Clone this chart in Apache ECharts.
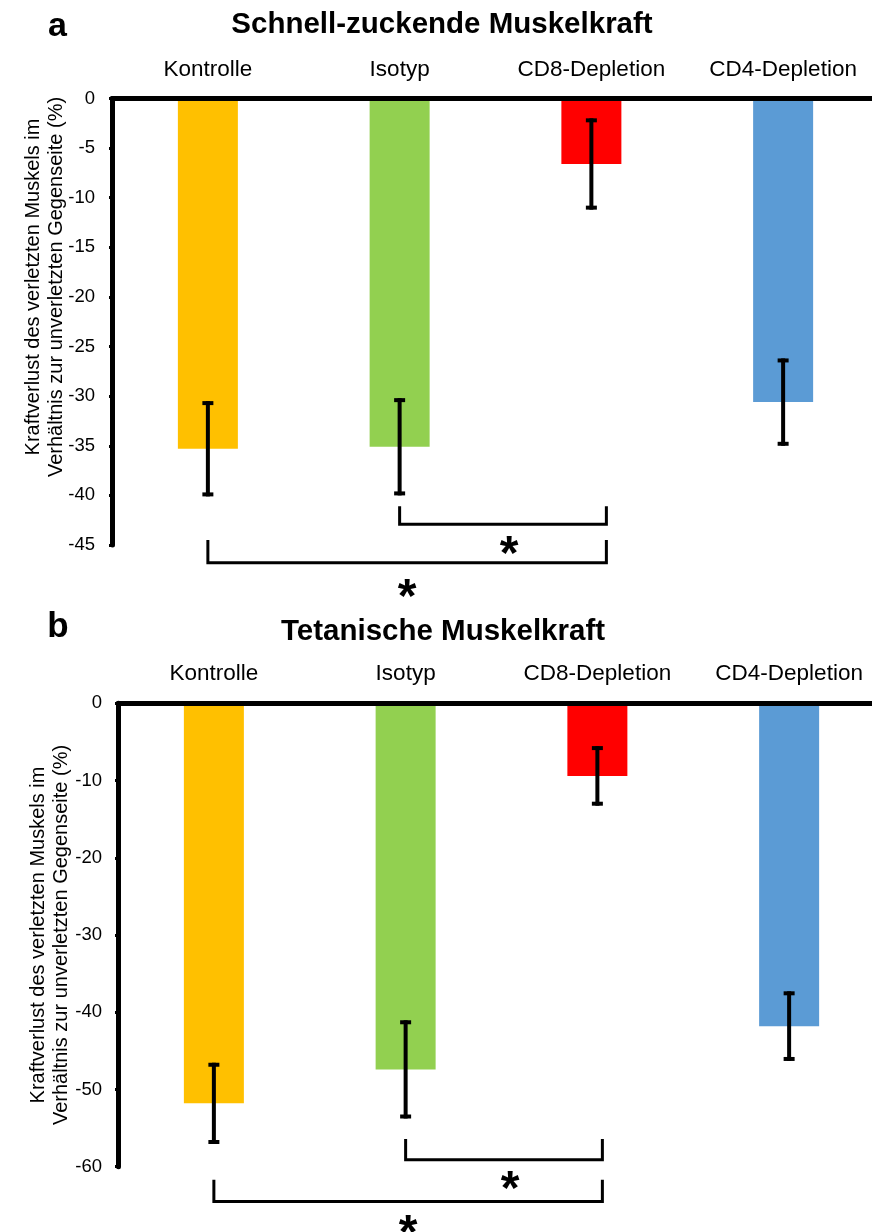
<!DOCTYPE html>
<html><head><meta charset="utf-8">
<script src="https://cdn.jsdelivr.net/npm/echarts@6/dist/echarts.min.js"></script>
<style>html,body{margin:0;padding:0;background:#fff}#c{width:872px;height:1232px}</style>
</head><body><div id="c"></div>
<script>
// ---- data ----
const categories = ['Kontrolle', 'Isotyp', 'CD8-Depletion', 'CD4-Depletion'];
const barColors = ['#FFC000', '#92D050', '#FF0000', '#5B9BD5'];
const panelLetters = ['a', 'b'];
const titleA = 'Schnell-zuckende Muskelkraft';
const titleB = 'Tetanische Muskelkraft';
const yNameLines = ['Kraftverlust des verletzten Muskels im', 'Verhältnis zur unverletzten Gegenseite (%)'];
const meanA = [-35.3, -35.1, -6.6, -30.6];
const errA = [4.6, 4.7, 4.4, 4.2];
const meanB = [-51.8, -47.4, -9.4, -41.8];
const errB = [5.0, 6.1, 3.6, 4.25];
const yAxisA = { min: -45, max: 0, interval: 5 };
const yAxisB = { min: -60, max: 0, interval: 10 };
// significance brackets: [fromCat, toCat, legTopValue, barValue, starValue, label]
const sigA = [[1, 2, -41.1, -42.9, -45.0, '*'], [0, 2, -44.5, -46.8, -49.3, '*']];
const sigB = [[1, 2, -56.4, -59.1, -61.7, '*'], [0, 2, -61.7, -64.5, -67.4, '*']];

// ---- style ----
const FONT = '"Liberation Sans", Arial, Helvetica, sans-serif';
const bracketRightShift = [15, 5];
const starShift = [6, 0];
const STAR_SIZE = 48;

function errRender(params, api) {
  const i = api.value(0), m = api.value(1), e = api.value(2);
  const t = api.coord([i, m + e]), b = api.coord([i, m - e]);
  const x = t[0], hw = 5.5, st = { stroke: '#000', lineWidth: 4 };
  return { type: 'group', children: [
    { type: 'line', shape: { x1: x, y1: t[1] - 2, x2: x, y2: b[1] + 2 }, style: st },
    { type: 'line', shape: { x1: x - hw, y1: t[1], x2: x + hw, y2: t[1] }, style: st },
    { type: 'line', shape: { x1: x - hw, y1: b[1], x2: x + hw, y2: b[1] }, style: st }
  ]};
}
function makeSigRender(panel) {
  return function (params, api) {
    const f = api.value(0), to = api.value(1), leg = api.value(2), bar = api.value(3), sv = api.value(4);
    const l = api.coord([f, leg]), r = api.coord([to, leg]);
    const lb = api.coord([f, bar]);
    const s = api.coord([f, sv]);
    const xl = l[0], xr = r[0] + bracketRightShift[panel];
    const xs = (xl + xr) / 2 + (params.dataIndex === 0 ? starShift[0] : starShift[1]);
    return { type: 'group', children: [
      { type: 'polyline', shape: { points: [[xl, l[1]], [xl, lb[1]], [xr, lb[1]], [xr, l[1]]] },
        style: { stroke: '#000', lineWidth: 3, fill: null } },
      { type: 'text', x: xs, y: s[1] + STAR_SIZE * 0.23,
        style: { text: '*', font: 'bold ' + STAR_SIZE + 'px ' + FONT, fill: '#000',
          align: 'center', verticalAlign: 'middle', textAlign: 'center', textVerticalAlign: 'middle' } }
    ]};
  };
}

function xAx(gi, margin) {
  return { type: 'category', gridIndex: gi, data: categories, position: 'top', z: 10,
    axisLine: { show: true, onZero: true, lineStyle: { color: '#000', width: 5 } },
    axisTick: { show: false },
    axisLabel: { color: '#000', fontSize: 22.5, fontFamily: FONT, margin: margin,
      interval: 0, hideOverlap: false } };
}
function yAx(gi, cfg, margin) {
  return { type: 'value', gridIndex: gi, min: cfg.min, max: cfg.max, interval: cfg.interval, z: 10,
    axisLine: { show: true, lineStyle: { color: '#000', width: 5 } },
    axisTick: { show: true, length: 3, lineStyle: { color: '#000', width: 3 } },
    splitLine: { show: false },
    axisLabel: { color: '#000', fontSize: 18.5, fontFamily: FONT, margin: margin } };
}
function txt(x, y, text, font, rot) {
  return { type: 'text', x: x, y: y, rotation: rot || 0, z: 20,
    style: { text: text, font: font, fill: '#000', align: 'center', verticalAlign: 'middle',
      textAlign: 'center', textVerticalAlign: 'middle' } };
}

const chart = echarts.init(document.getElementById('c'), null, { renderer: 'canvas' });
chart.setOption({
  animation: false,
  backgroundColor: '#fff',
  grid: [
    { left: 112, top: 98.5, width: 767, height: 446.5, outerBoundsMode: 'none', containLabel: false },
    { left: 118, top: 703.3, width: 767, height: 463.4, outerBoundsMode: 'none', containLabel: false }
  ],
  xAxis: [xAx(0, 17), xAx(1, 18)],
  yAxis: [yAx(0, yAxisA, 17), yAx(1, yAxisB, 16)],
  graphic: [
    txt(57.5, 27, panelLetters[0], 'bold 34px ' + FONT),
    txt(58, 627, panelLetters[1], 'bold 35px ' + FONT),
    txt(442, 25, titleA, 'bold 29.5px ' + FONT),
    txt(443, 632, titleB, 'bold 29.5px ' + FONT),
    txt(33, 287, yNameLines[0], '20px ' + FONT, Math.PI / 2),
    txt(56, 287, yNameLines[1], '20px ' + FONT, Math.PI / 2),
    txt(38, 935, yNameLines[0], '20px ' + FONT, Math.PI / 2),
    txt(61, 935, yNameLines[1], '20px ' + FONT, Math.PI / 2)
  ],
  series: [
    { type: 'bar', xAxisIndex: 0, yAxisIndex: 0, barWidth: 60,
      data: meanA.map((v, i) => ({ value: v, itemStyle: { color: barColors[i] } })) },
    { type: 'bar', xAxisIndex: 1, yAxisIndex: 1, barWidth: 60,
      data: meanB.map((v, i) => ({ value: v, itemStyle: { color: barColors[i] } })) },
    { type: 'custom', xAxisIndex: 0, yAxisIndex: 0, renderItem: errRender, z: 5,
      data: meanA.map((m, i) => [i, m, errA[i]]), encode: { x: 0, y: 1 } },
    { type: 'custom', xAxisIndex: 1, yAxisIndex: 1, renderItem: errRender, z: 5,
      data: meanB.map((m, i) => [i, m, errB[i]]), encode: { x: 0, y: 1 } },
    { type: 'custom', xAxisIndex: 0, yAxisIndex: 0, renderItem: makeSigRender(0), clip: false, z: 5,
      data: sigA.map(s => s.slice(0, 5)), encode: { x: [0, 1], y: [2, 3, 4] } },
    { type: 'custom', xAxisIndex: 1, yAxisIndex: 1, renderItem: makeSigRender(1), clip: false, z: 5,
      data: sigB.map(s => s.slice(0, 5)), encode: { x: [0, 1], y: [2, 3, 4] } }
  ]
});
</script></body></html>
